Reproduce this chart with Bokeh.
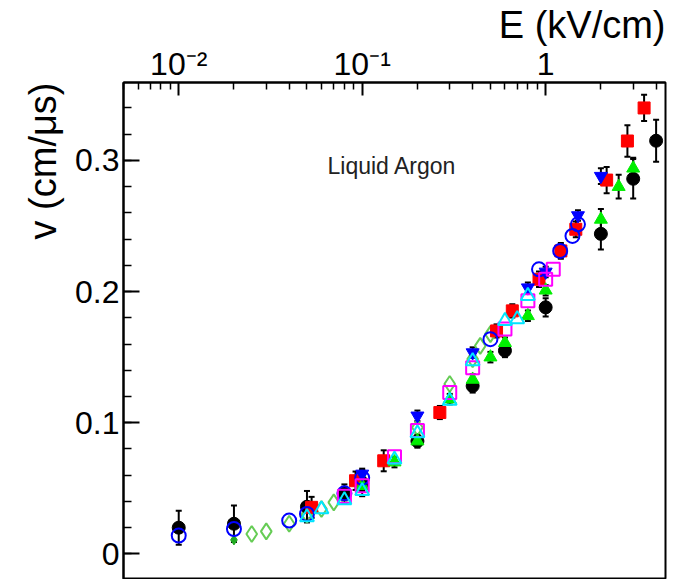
from bokeh.plotting import figure
from bokeh.models import FixedTicker, Label, Whisker, TeeHead, ColumnDataSource, Range1d, Title
from bokeh.embed import file_html
from bokeh.resources import INLINE

# ---------------- data (E in kV/cm, v in cm/us) ----------------
blk_E = [0.01, 0.02, 0.05, 0.08, 0.1, 0.2, 0.4, 0.6, 1.0, 2.0, 3.0, 4.0]
blk_v = [0.020, 0.023, 0.036, 0.046, 0.054, 0.086, 0.128, 0.155, 0.188, 0.244, 0.286, 0.315]
blk_err = [0.013, 0.014, 0.012, 0.007, 0.010, 0.005, 0.005, 0.005, 0.007, 0.012, 0.015, 0.016]

red_E = [0.053, 0.092, 0.131, 0.265, 0.54, 0.658, 0.92, 1.21, 1.46, 2.15, 2.79, 3.44]
red_v = [0.0355, 0.0558, 0.071, 0.1078, 0.170, 0.1853, 0.2094, 0.231, 0.2475, 0.285, 0.3148, 0.340]
red_err = [0.008, 0.007, 0.008, 0.005, 0.005, 0.005, 0.006, 0.006, 0.006, 0.010, 0.012, 0.010]

grn_E = [0.1, 0.15, 0.2, 0.3, 0.4, 0.5, 0.6, 0.8, 1.0, 2.0, 2.5, 3.0]
grn_v = [0.052, 0.070, 0.086, 0.118, 0.133, 0.150, 0.161, 0.1815, 0.201, 0.255, 0.280, 0.294]
grn_err = [0.004, 0.004, 0.004, 0.004, 0.004, 0.004, 0.004, 0.004, 0.004, 0.008, 0.009, 0.008]

binv_E = [0.1, 0.2, 0.4, 0.8, 1.0, 1.5, 2.0]
binv_v = [0.061, 0.1053, 0.1535, 0.203, 0.215, 0.258, 0.288]
binv_err = [0.004, 0.004, 0.004, 0.004, 0.004, 0.004, 0.006]

bcir_E = [0.01, 0.02, 0.04, 0.05, 0.08, 0.1, 0.5, 0.92, 1.2, 1.4, 1.5]
bcir_v = [0.014, 0.019, 0.0254, 0.0305, 0.0462, 0.058, 0.1637, 0.217, 0.231, 0.2424, 0.2513]

mag_E = [0.08, 0.1, 0.15, 0.2, 0.3, 0.4, 0.6, 0.8, 1.0, 1.1]
mag_v = [0.044, 0.052, 0.074, 0.094, 0.123, 0.142, 0.1714, 0.193, 0.2094, 0.217]

cyn_E = [0.05, 0.06, 0.08, 0.1, 0.15, 0.2, 0.3, 0.4, 0.6, 0.7, 0.8]
cyn_v = [0.028, 0.034, 0.041, 0.048, 0.072, 0.092, 0.1168, 0.147, 0.1777, 0.179, 0.1967]

dia_E = [0.025, 0.03, 0.04, 0.05, 0.06, 0.07, 0.08, 0.1, 0.2, 0.3, 0.4, 0.44, 0.5]
dia_v = [0.0152, 0.0172, 0.023, 0.030, 0.0343, 0.0393, 0.044, 0.056, 0.0964, 0.1295, 0.1485, 0.1586, 0.1676]

sdia_E = [0.02]
sdia_v = [0.0107]

x_tick_vals = [0.01, 0.1, 1]
x_tick_labels = ["10\u207b\u00b2", "10\u207b\u00b9", "1"]
y_tick_vals = [0, 0.1, 0.2, 0.3]
y_tick_labels = ["0", "0.1", "0.2", "0.3"]

FONT = "Liberation Sans"

p = figure(width=673, height=579, x_axis_type="log",
           x_range=Range1d(0.005, 4.5), y_range=Range1d(-0.0195, 0.3594),
           x_axis_location="above", y_axis_location="left",
           toolbar_location=None, output_backend="svg",
           min_border_left=123, min_border_right=8, min_border_top=82, min_border_bottom=0)
p.background_fill_color = "white"
p.border_fill_color = "white"
p.outline_line_color = "black"
p.outline_line_width = 2
p.xgrid.visible = False
p.ygrid.visible = False

# x-axis title as right-aligned title above the top axis
p.title.text = "E (kV/cm)"
p.title.align = "right"
p.title.text_font = FONT
p.title.text_font_size = "38px"
p.title.text_font_style = "normal"
p.title.text_color = "black"
p.title.standoff = -6
p.title.offset = 0

# y-axis title, vertical, at the top end of the left axis
p.add_layout(Title(text="v (cm/\u03bcs)", align="right", text_font=FONT, text_font_size="38px",
                   text_font_style="normal", text_color="black", standoff=17), "left")

xminor = [m * 10.0 ** e for e in (-3, -2, -1, 0) for m in range(2, 10)]
yminor = [round(-0.02 + 0.02 * i, 2) for i in range(20)]

xa = p.xaxis[0]
xa.ticker = FixedTicker(ticks=x_tick_vals, minor_ticks=xminor)
xa.major_label_overrides = dict(zip(x_tick_vals, x_tick_labels))
ya = p.yaxis[0]
ya.ticker = FixedTicker(ticks=y_tick_vals, minor_ticks=yminor)
ya.major_label_overrides = dict(zip(y_tick_vals, y_tick_labels))

for ax, mj, mn in ((xa, 13, 7), (ya, 16, 8)):
    ax.major_tick_in = mj
    ax.major_tick_out = 0
    ax.minor_tick_in = mn
    ax.minor_tick_out = 0
    ax.major_tick_line_width = 2
    ax.minor_tick_line_width = 1.5
    ax.axis_line_width = 2
    ax.major_label_text_font = FONT
    ax.major_label_text_font_size = "32px"
    ax.major_label_text_color = "black"
xa.major_label_standoff = 1
ya.major_label_standoff = 4

def errbars(E, v, err, color="black"):
    src = ColumnDataSource(dict(x=E, lo=[a - b for a, b in zip(v, err)], hi=[a + b for a, b in zip(v, err)]))
    w = Whisker(base="x", lower="lo", upper="hi", source=src, dimension="height",
                line_color=color, line_width=2,
                upper_head=TeeHead(size=6, line_width=2, line_color=color),
                lower_head=TeeHead(size=6, line_width=2, line_color=color))
    p.add_layout(w)

errbars(blk_E, blk_v, blk_err)
errbars(red_E, red_v, red_err)
errbars(grn_E, grn_v, grn_err)
errbars(binv_E, binv_v, binv_err)

p.scatter(dia_E, dia_v, marker="diamond", size=16, fill_color=None, line_color="#66cc55", line_width=2)
p.scatter(sdia_E, sdia_v, marker="diamond", size=10, fill_color="#22aa22", line_color="#22aa22")
p.scatter(blk_E, blk_v, marker="circle", size=13, fill_color="black", line_color="black")
p.scatter(red_E, red_v, marker="square", size=12, fill_color="red", line_color="red")
p.scatter(grn_E, grn_v, marker="triangle", size=13, fill_color="#00ee00", line_color="#00ee00")
p.scatter(binv_E, binv_v, marker="inverted_triangle", size=13, fill_color="blue", line_color="blue")
p.scatter(bcir_E, bcir_v, marker="circle", size=14, fill_color=None, line_color="blue", line_width=2)
p.scatter(mag_E, mag_v, marker="square", size=13, fill_color=None, line_color="#ff00ff", line_width=2)
p.scatter(cyn_E, cyn_v, marker="triangle", size=14, fill_color=None, line_color="#00e5ff", line_width=2)

p.add_layout(Label(x=0.0647, y=0.2957, text="Liquid Argon", text_align="left", text_baseline="middle",
                   text_font=FONT, text_font_size="23px", text_color="#222222"))

open("out.html", "w").write(file_html(p, INLINE))
